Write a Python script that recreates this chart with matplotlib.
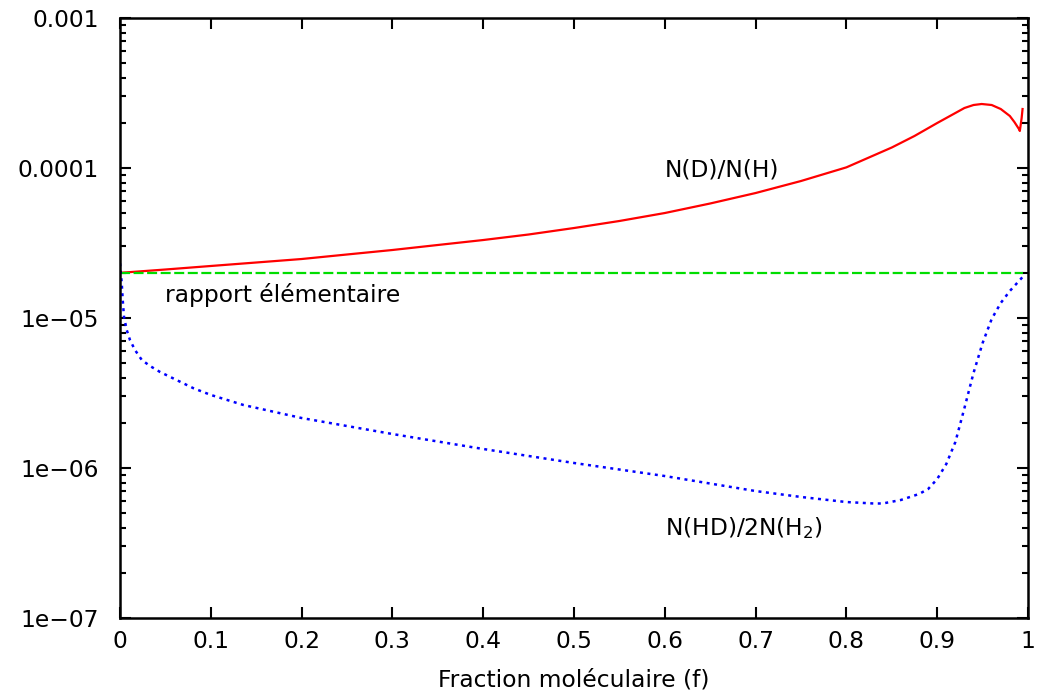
import numpy as np
import matplotlib
matplotlib.use("Agg")
import matplotlib.pyplot as plt
from matplotlib.ticker import FixedLocator, FixedFormatter, LogLocator, NullFormatter

# N(D)/N(H) as a function of the molecular fraction f
f_dh = [0.0, 0.05, 0.1, 0.15, 0.2, 0.25, 0.3, 0.35, 0.4, 0.45, 0.5, 0.55,
        0.6, 0.65, 0.7, 0.75, 0.8, 0.85, 0.875, 0.9, 0.91, 0.92, 0.93, 0.94,
        0.949, 0.96, 0.97, 0.98, 0.985, 0.99, 0.991, 0.993, 0.994]
r_dh = [2.0e-5, 2.105e-5, 2.222e-5, 2.344e-5, 2.473e-5, 2.651e-5, 2.84e-5,
        3.067e-5, 3.31e-5, 3.603e-5, 3.98e-5, 4.433e-5, 5.01e-5, 5.8e-5,
        6.81e-5, 8.19e-5, 1.01e-4, 1.37e-4, 1.635e-4, 1.995e-4, 2.154e-4,
        2.326e-4, 2.512e-4, 2.63e-4, 2.671e-4, 2.63e-4, 2.473e-4, 2.222e-4,
        2.026e-4, 1.82e-4, 1.765e-4, 2.154e-4, 2.473e-4]

# N(HD)/2N(H2) as a function of the molecular fraction f
f_hd = [0.0, 0.0019, 0.003, 0.0044, 0.0074, 0.011, 0.0165, 0.024, 0.033,
        0.044, 0.081, 0.1, 0.136, 0.2, 0.3, 0.4, 0.5, 0.6, 0.7, 0.75, 0.8,
        0.83, 0.84, 0.86, 0.88, 0.89, 0.9, 0.91, 0.92, 0.93, 0.94, 0.95,
        0.96, 0.97, 0.98, 0.99, 0.994]
r_hd = [2.315e-5, 1.711e-5, 1.318e-5, 1.02e-5, 8.32e-6, 7.13e-6, 6.12e-6,
        5.25e-6, 4.79e-6, 4.37e-6, 3.40e-6, 3.07e-6, 2.63e-6, 2.154e-6,
        1.685e-6, 1.339e-6, 1.08e-6, 8.84e-7, 7.02e-7, 6.41e-7, 5.93e-7,
        5.8e-7, 5.8e-7, 6.12e-7, 6.71e-7, 7.24e-7, 8.44e-7, 1.063e-6,
        1.49e-6, 2.51e-6, 4.3e-6, 6.81e-6, 9.85e-6, 1.259e-5, 1.514e-5,
        1.764e-5, 1.876e-5]

# elemental D/H ratio
f_elem = [0.0, 0.994]
r_elem = [2.0e-5, 2.0e-5]

x_ticks = [0, 0.1, 0.2, 0.3, 0.4, 0.5, 0.6, 0.7, 0.8, 0.9, 1]
x_labels = ["0", "0.1", "0.2", "0.3", "0.4", "0.5", "0.6", "0.7", "0.8", "0.9", "1"]
y_ticks = [1e-7, 1e-6, 1e-5, 1e-4, 1e-3]
y_labels = ["1e\u221207", "1e\u221206", "1e\u221205", "0.0001", "0.001"]

plt.rcParams['font.family'] = ['DejaVu Sans']
FS = 16.8

fig = plt.figure(figsize=(10.41, 6.95), dpi=100)
ax = fig.add_axes([120 / 1041, 1 - 618 / 695, 908 / 1041, 600 / 695])

ax.plot(f_dh, r_dh, color="#ff0000", lw=1.6)
ax.plot(f_elem, r_elem, color="#00dd00", lw=1.6, dashes=(4.5, 1.6))
ax.plot(f_hd, r_hd, color="#0000ff", lw=1.8, dashes=(1.2, 1.8))

ax.set_yscale("log")
ax.set_xlim(0, 1)
ax.set_ylim(1e-7, 1e-3)

ax.xaxis.set_major_locator(FixedLocator(x_ticks))
ax.xaxis.set_major_formatter(FixedFormatter(x_labels))
ax.yaxis.set_major_locator(FixedLocator(y_ticks))
ax.yaxis.set_major_formatter(FixedFormatter(y_labels))
ax.yaxis.set_minor_locator(LogLocator(base=10, subs=np.arange(2, 10)))
ax.yaxis.set_minor_formatter(NullFormatter())

ax.tick_params(which="both", direction="in", top=True, right=True,
               width=1.5, labelsize=FS, color="black")
ax.tick_params(which="major", length=8, pad=15)
ax.tick_params(which="minor", length=4.5)
ax.tick_params(axis="x", pad=9)
for s in ax.spines.values():
    s.set_linewidth(1.8)

ax.set_xlabel("Fraction moléculaire (f)", fontsize=FS, labelpad=11)

ax.text(0.6, 9.7e-5, "N(D)/N(H)", fontsize=FS, ha="left", va="center")
ax.text(0.05, 1.42e-5, "rapport élémentaire", fontsize=FS, ha="left", va="center")
ax.text(0.6, 4.0e-7, "N(HD)/2N(H$_2$)", fontsize=FS, ha="left", va="center")

fig.savefig("out.png", dpi=100)
